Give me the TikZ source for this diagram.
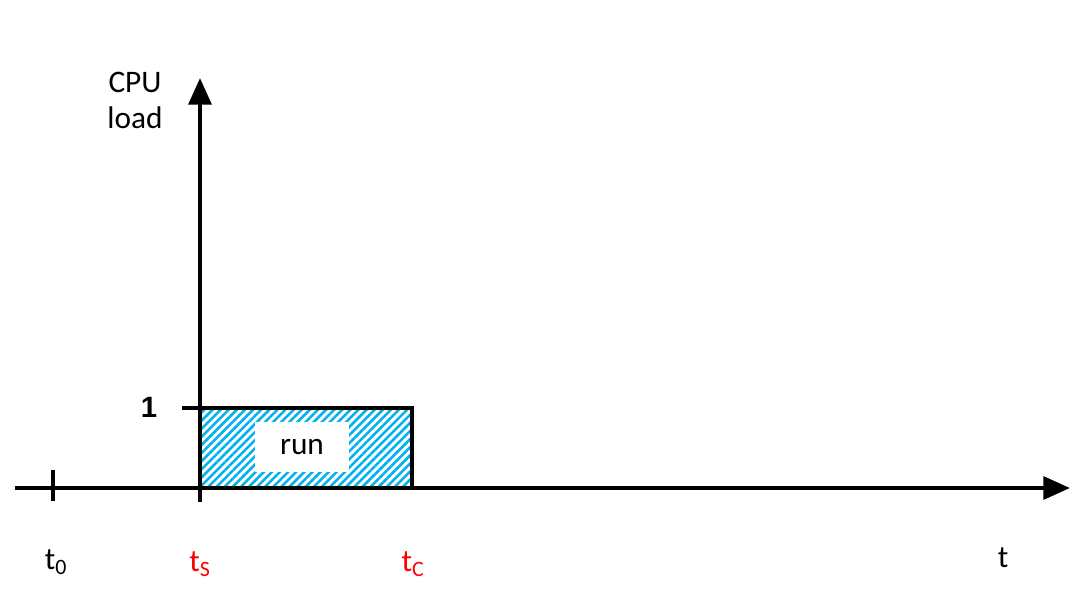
\documentclass[tikz,border=0pt]{standalone}
\usepackage{fontspec}
\setmainfont{Carlito}
\newfontfamily\arialfont{Liberation Sans}
\usetikzlibrary{arrows.meta, patterns.meta}
\definecolor{runblue}{RGB}{0,176,240}
\definecolor{labelred}{RGB}{255,0,0}
\newcommand{\onefont}{\fontsize{22}{24}\arialfont\bfseries}
\begin{document}
\begin{tikzpicture}[x=0.75pt, y=-0.75pt,
    axis/.style={line width=3.3pt, -{Triangle[length=20pt, width=17pt]}},
    tickmark/.style={line width=3.3pt},
    runbox/.style={line width=3.3pt, pattern={Lines[angle=45, distance=4.3pt, line width=1.9pt]}, pattern color=runblue},
    txt/.style={font=\fontsize{23.5}{26}\selectfont, inner sep=0pt},
    redtxt/.style={txt, text=labelred}
        ]

    \path [use as bounding box] (0,0) rectangle (1077,606);

    % axes
    \coordinate (O) at (200,488);
    \coordinate (xstart) at (15,488);
    \coordinate (xend) at (1070,488);
    \coordinate (ystart) at (200,502);
    \coordinate (yend) at (200,78);

    % run box
    \draw [runbox] (200,408) rectangle (412,488);
    \node (run) at (302,447) [fill=white, minimum width=71pt, minimum height=38pt, txt] {run};

    \draw [axis] (xstart) -- (xend);
    \draw [axis] (ystart) -- (yend);

    \coordinate (t0top) at (53,470);
    \coordinate (t0bot) at (53,501);
    \draw [tickmark] (t0top) -- (t0bot);
    \coordinate (onel) at (182,408);
    \draw [tickmark] (onel) -- (O |- onel);

    \node (one) at (149,407) [inner sep=0pt] {\onefont 1};
    \node (cpu) at (135,82) [txt] {CPU};
    \node (load) at (135,118) [txt] {load};

    \node (t0) at (56,562) [txt] {t\textsubscript{0}};
    \node (ts) at (200,564) [redtxt] {t\textsubscript{S}};
    \node (tc) at (413,564) [redtxt] {t\textsubscript{C}};
    \node (t) at (1003,558) [txt] {t};

\end{tikzpicture}
\end{document}
